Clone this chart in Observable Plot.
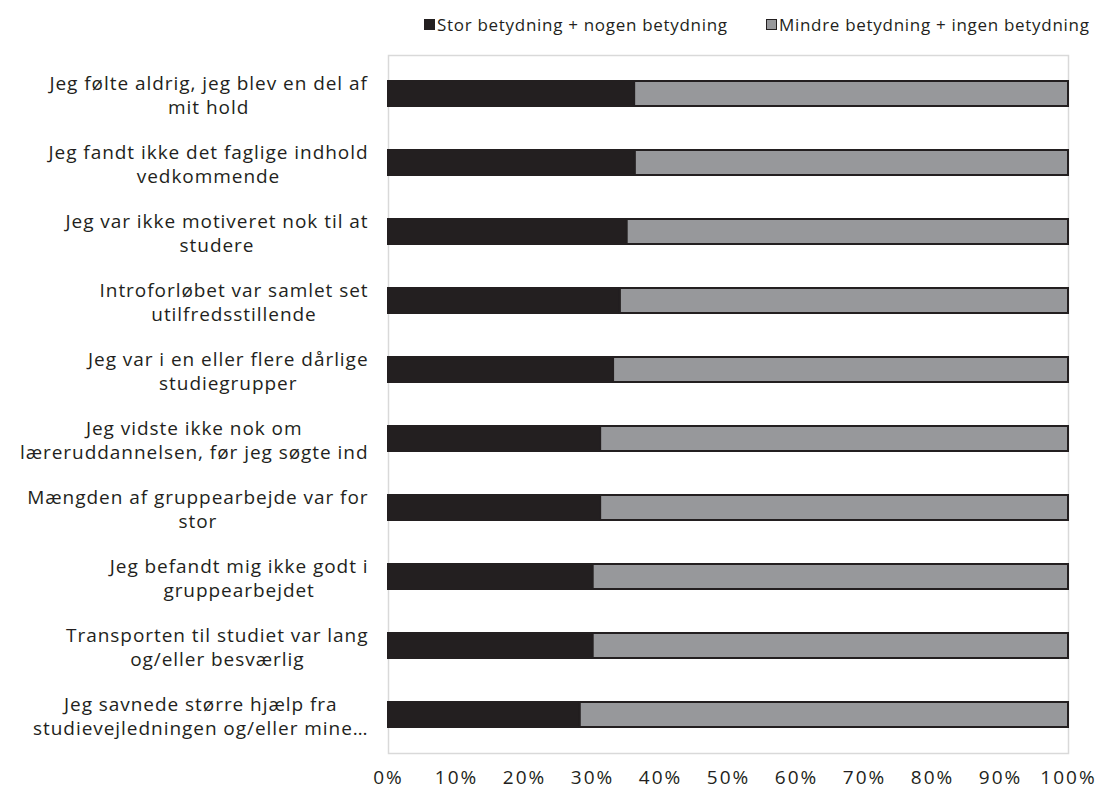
<!DOCTYPE html>
<html>
<head>
<meta charset="utf-8">
<script src="https://cdn.jsdelivr.net/npm/d3@7"></script>
<script src="https://cdn.jsdelivr.net/npm/@observablehq/plot@0.6"></script>
<style>
  body { margin: 0; background: #fff; font-family: "Open Sans", sans-serif; }
  #legend { position: relative; height: 40px; width: 1098px; font-size: 17px; letter-spacing: 0.7px; color: #231f20; }
  .item { position: absolute; top: 13px; display: flex; align-items: center; white-space: nowrap; }
  .sw { width: 11px; height: 11px; box-sizing: border-box; border: 1.5px solid #231f20; margin-right: 2px; }
  #chart svg text { letter-spacing: 0.95px; }
</style>
</head>
<body>
<div id="legend">
  <div class="item" style="left:424px"><span class="sw" style="background:#231f20"></span><span id="l0"></span></div>
  <div class="item" style="left:766px"><span class="sw" style="background:#97989b"></span><span id="l1"></span></div>
</div>
<div id="chart"></div>
<script>
const categories = [
  "Jeg følte aldrig, jeg blev en del af mit hold",
  "Jeg fandt ikke det faglige indhold vedkommende",
  "Jeg var ikke motiveret nok til at studere",
  "Introforløbet var samlet set utilfredsstillende",
  "Jeg var i en eller flere dårlige studiegrupper",
  "Jeg vidste ikke nok om læreruddannelsen, før jeg søgte ind",
  "Mængden af gruppearbejde var for stor",
  "Jeg befandt mig ikke godt i gruppearbejdet",
  "Transporten til studiet var lang og/eller besværlig",
  "Jeg savnede større hjælp fra studievejledningen og/eller mine undervisere"
];
const labelLines = [
  "Jeg følte aldrig, jeg blev en del af\nmit hold",
  "Jeg fandt ikke det faglige indhold\nvedkommende",
  "Jeg var ikke motiveret nok til at\nstudere",
  "Introforløbet var samlet set\nutilfredsstillende",
  "Jeg var i en eller flere dårlige\nstudiegrupper",
  "Jeg vidste ikke nok om\nlæreruddannelsen, før jeg søgte ind",
  "Mængden af gruppearbejde var for\nstor",
  "Jeg befandt mig ikke godt i\ngruppearbejdet",
  "Transporten til studiet var lang\nog/eller besværlig",
  "Jeg savnede større hjælp fra\nstudievejledningen og/eller mine…"
];
const seriesNames = ["Stor betydning + nogen betydning", "Mindre betydning + ingen betydning"];
const strongValues = [36.2, 36.3, 35.1, 34.1, 33.1, 31.2, 31.2, 30.1, 30.1, 28.2];
const weakValues = [63.8, 63.7, 64.9, 65.9, 66.9, 68.8, 68.8, 69.9, 69.9, 71.8];
const xTicks = [0, 10, 20, 30, 40, 50, 60, 70, 80, 90, 100];
const colors = ["#231f20", "#97989b"];

document.getElementById("l0").textContent = seriesNames[0];
document.getElementById("l1").textContent = seriesNames[1];

const rows = [];
categories.forEach((c, i) => {
  rows.push({cat: c, series: seriesNames[0], value: strongValues[i] / 100});
  rows.push({cat: c, series: seriesNames[1], value: weakValues[i] / 100});
});
const labelMap = new Map(categories.map((c, i) => [c, labelLines[i]]));

const chart = Plot.plot({
  width: 1098,
  height: 752,
  marginLeft: 388,
  marginRight: 30,
  marginTop: 15,
  marginBottom: 39,
  style: {fontFamily: "Open Sans, sans-serif", fontSize: "19px", color: "#231f20", background: "#fff"},
  x: {domain: [0, 1]},
  y: {domain: categories, paddingInner: 0.64, paddingOuter: 0.32},
  color: {domain: seriesNames, range: colors},
  marks: [
    Plot.frame({stroke: "#d9d9d9", strokeWidth: 1.5}),
    Plot.barX(rows, Plot.stackX({x: "value", y: "cat", fill: "series", order: seriesNames, stroke: "#231f20", strokeWidth: 2, inset: 0})),
    Plot.axisX({ticks: xTicks.map(t => t / 100), tickFormat: d => Math.round(d * 100) + "%", tickSize: 0, tickPadding: 17, fontSize: 19, label: null}),
    Plot.axisY({tickSize: 0, tickPadding: 20, tickFormat: d => labelMap.get(d), lineHeight: 1.26, fontSize: 19, label: null})
  ]
});
document.getElementById("chart").appendChild(chart);

// Excel-style wrapped labels: lines centred within the label block, block right-aligned
d3.select(chart).selectAll('g[aria-label="y-axis tick label"] text').each(function() {
  this.setAttribute("text-anchor", "middle");
  this.style.textAnchor = "middle";
  this.querySelectorAll("tspan").forEach(s => { s.setAttribute("text-anchor", "middle"); s.style.textAnchor = "middle"; });
  const b = this.getBBox();
  const shift = -(b.x + b.width);
  const t = this.getAttribute("transform") || "";
  this.setAttribute("transform", t + ` translate(${shift},0)`);
});
d3.select(chart).selectAll('g[aria-label="x-axis tick label"] text').style("letter-spacing", "2px");
</script>
</body>
</html>
